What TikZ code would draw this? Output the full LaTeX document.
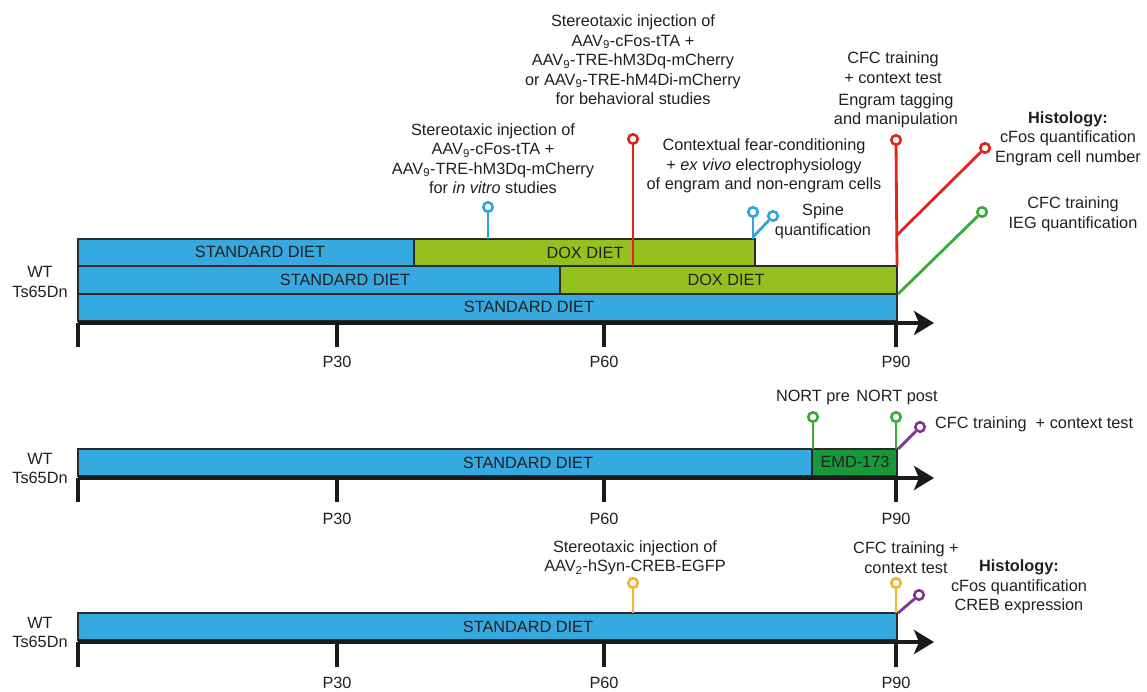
\documentclass[tikz,border=0pt]{standalone}
\usepackage{fontspec}
\setmainfont{Liberation Sans}
\usetikzlibrary{arrows.meta}
\definecolor{stdblue}{HTML}{36A9E1}
\definecolor{doxgreen}{HTML}{95C11F}
\definecolor{emdgreen}{HTML}{15993A}
\definecolor{pinred}{HTML}{E2231A}
\definecolor{pinblue}{HTML}{2FA4DE}
\definecolor{pingreen}{HTML}{3AAA35}
\definecolor{pinpurple}{HTML}{7D3596}
\definecolor{pinorange}{HTML}{F5B232}
\definecolor{txtc}{HTML}{231F20}
\definecolor{barline}{HTML}{2A2A2A}
\definecolor{axisc}{HTML}{1A1A1A}
\begin{document}
\begin{tikzpicture}[x=1pt,y=-1pt,
  txt/.style={text=txtc, font=\fontsize{16.3}{19.5}\selectfont, align=center, inner sep=0pt},
  barbox/.style={draw=barline, line width=1.4pt},
  axisline/.style={line width=4pt, draw=axisc, -{Stealth[length=20pt,width=24pt,inset=5pt]}},
  tickline/.style={line width=4.2pt, draw=axisc},
  stem/.style={line width=2.8pt, draw=#1},
  pinhead/.style={circle, draw=#1, fill=white, line width=2.6pt, minimum size=9.5pt, inner sep=0pt}]
\useasboundingbox (0,0) rectangle (1147,691);

% ================= PANEL 1 =================
\draw[barbox, fill=stdblue] (78,239) rectangle (414,266);
\draw[barbox, fill=doxgreen] (414,239) rectangle (755,266);
\draw[barbox, fill=stdblue] (78,266) rectangle (560,294);
\draw[barbox, fill=doxgreen] (560,266) rectangle (897,294);
\draw[barbox, fill=stdblue] (78,294) rectangle (897,321);
\node[txt] (p1r1s) at (260,252) {STANDARD DIET};
\node[txt] (p1r1d) at (585,253) {DOX DIET};
\node[txt] (p1r2s) at (345,280) {STANDARD DIET};
\node[txt] (p1r2d) at (726,280) {DOX DIET};
\node[txt] (p1r3s) at (529,307) {STANDARD DIET};
\node[txt] (p1wt) at (40,282) {WT\\Ts65Dn};

\draw[axisline] (78,323) -- (934,323);
\foreach \x in {78,337,604,896} \draw[tickline] (\x,323) -- (\x,347);
\node[txt] (p1t30) at (337,362) {P30};
\node[txt] (p1t60) at (604,362) {P60};
\node[txt] (p1t90) at (896,362) {P90};

% pins panel 1
\coordinate (s1) at (488,239);
\node[pinhead=pinblue] (h1) at (488,207) {};
\draw[stem=pinblue] (s1) -- (h1);

\coordinate (s2) at (633,266);
\node[pinhead=pinred] (h2) at (633,139) {};
\draw[stem=pinred] (s2) -- (h2);

\coordinate (s3) at (753,239);
\coordinate (f3) at (753,237);
\node[pinhead=pinblue] (h3a) at (753,212) {};
\node[pinhead=pinblue] (h3b) at (773,216) {};
\draw[stem=pinblue] (s3) -- (h3a);
\draw[stem=pinblue] (f3) -- (h3b);

\coordinate (s4) at (897,266);
\coordinate (f4) at (897,235);
\node[pinhead=pinred] (h4a) at (896,140) {};
\node[pinhead=pinred] (h4b) at (985,148) {};
\draw[stem=pinred] (s4) -- (h4a);
\draw[stem=pinred] (f4) -- (h4b);

\coordinate (s5) at (898,294);
\node[pinhead=pingreen] (h5) at (982,212) {};
\draw[stem=pingreen] (s5) -- (h5);

% texts panel 1
\node[txt] (tb) at (633,60) {Stereotaxic injection of\\AAV\textsubscript{9}-cFos-tTA +\\AAV\textsubscript{9}-TRE-hM3Dq-mCherry\\or AAV\textsubscript{9}-TRE-hM4Di-mCherry\\for behavioral studies};
\node[txt] (tv) at (493,158.5) {Stereotaxic injection of\\AAV\textsubscript{9}-cFos-tTA +\\AAV\textsubscript{9}-TRE-hM3Dq-mCherry\\for \textit{in vitro} studies};
\node[txt] (tc) at (764,166) {Contextual fear-conditioning\\+ \textit{ex vivo} electrophysiology\\of engram and non-engram cells};
\node[txt] (ts) at (823,221.5) {Spine\\quantification};
\node[txt] (tcfc) at (893,67.5) {CFC training\\+ context test};
\node[txt] (teng) at (896,111) {Engram tagging\\and manipulation};
\node[txt] (thist) at (1068,138.5) {\textbf{Histology:}\\cFos quantification\\Engram cell number};
\node[txt] (tieg) at (1073,214.5) {CFC training\\IEG quantification};

% ================= PANEL 2 =================
\draw[barbox, fill=stdblue] (78,449) rectangle (812,476);
\draw[barbox, fill=emdgreen] (812,449) rectangle (897,476);
\node[txt] (p2s) at (528,463) {STANDARD DIET};
\node[txt] (p2e) at (855,462) {EMD-173};
\node[txt] (p2wt) at (40,468.5) {WT\\Ts65Dn};

\draw[axisline] (78,478) -- (934,478);
\foreach \x in {78,337,604,896} \draw[tickline] (\x,478) -- (\x,502);
\node[txt] (p2t30) at (337,519) {P30};
\node[txt] (p2t60) at (604,519) {P60};
\node[txt] (p2t90) at (896,519) {P90};

\coordinate (s6) at (813,449);
\node[pinhead=pingreen] (h6) at (813,417) {};
\draw[stem=pingreen] (s6) -- (h6);
\coordinate (s7) at (896,449);
\node[pinhead=pingreen] (h7) at (896,417) {};
\draw[stem=pingreen] (s7) -- (h7);
\coordinate (s8) at (898,449);
\node[pinhead=pinpurple] (h8) at (920,427) {};
\draw[stem=pinpurple] (s8) -- (h8);

\node[txt] (tnpre) at (813,397) {NORT pre};
\node[txt] (tnpost) at (897,397) {NORT post};
\node[txt, anchor=west] (tcfc2) at (935,424) {CFC training\ \ + context test};

% ================= PANEL 3 =================
\draw[barbox, fill=stdblue] (78,613) rectangle (897,640);
\node[txt] (p3s) at (528,627) {STANDARD DIET};
\node[txt] (p3wt) at (40,632.5) {WT\\Ts65Dn};

\draw[axisline] (78,642) -- (934,642);
\foreach \x in {78,337,604,896} \draw[tickline] (\x,642) -- (\x,667);
\node[txt] (p3t30) at (337,683) {P30};
\node[txt] (p3t60) at (604,683) {P60};
\node[txt] (p3t90) at (896,683) {P90};

\coordinate (s9) at (633,613);
\node[pinhead=pinorange] (h9) at (633,583) {};
\draw[stem=pinorange] (s9) -- (h9);
\coordinate (s10) at (896,613);
\node[pinhead=pinorange] (h10) at (896,583) {};
\draw[stem=pinorange] (s10) -- (h10);
\coordinate (s11) at (898,613);
\node[pinhead=pinpurple] (h11) at (919,595) {};
\draw[stem=pinpurple] (s11) -- (h11);

\node[txt] (tcreb) at (635,558) {Stereotaxic injection of\\AAV\textsubscript{2}-hSyn-CREB-EGFP};
\node[txt] (tcfc3) at (906,557.5) {CFC training +\\context test};
\node[txt] (thist3) at (1019,587) {\textbf{Histology:}\\cFos quantification\\CREB expression};
\end{tikzpicture}
\end{document}
